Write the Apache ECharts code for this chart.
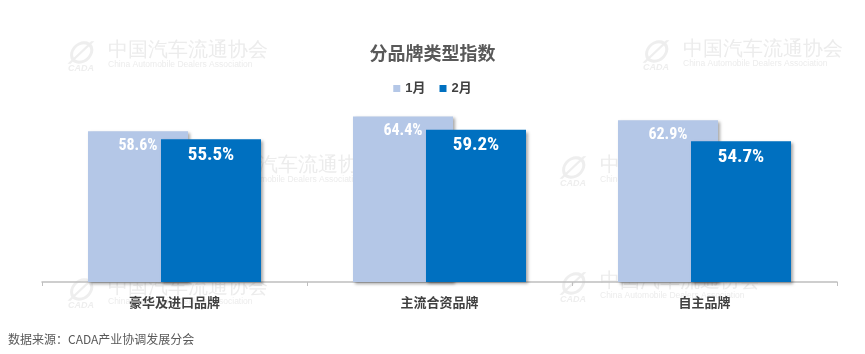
<!DOCTYPE html>
<html><head><meta charset="utf-8">
<script src="https://cdn.jsdelivr.net/npm/echarts@6/dist/echarts.min.js"></script>
<style>html,body{margin:0;padding:0;background:#fff}#c{width:865px;height:354px}</style>
</head><body><div id="c"></div>
<script>
const categories = ['豪华及进口品牌', '主流合资品牌', '自主品牌'];
const seriesNames = ['1月', '2月'];
const jan = [58.6, 64.4, 62.9];
const feb = [55.5, 59.2, 54.7];
const titleText = '分品牌类型指数';
const sourceText = '数据来源：CADA产业协调发展分会';

const wmCn = '中国汽车流通协会';
const wmEn = 'China Automobile Dealers Association';
const wmPos = [[108, 52], [683, 51], [218, 167], [600, 167], [108, 289], [600, 283]];
const wm = [];
wmPos.forEach(p => {
  wm.push({type:'text', left:p[0], top:p[1]-11, z:-1, style:{text:wmCn, font:'20px "Liberation Serif", serif', fill:'#ececec'}});
  wm.push({type:'text', left:p[0], top:p[1]+8, z:-1, style:{text:wmEn, font:'8.5px "Liberation Sans", sans-serif', fill:'#ececec'}});
  wm.push({type:'text', left:p[0]-42, top:p[1]-12, z:-1, style:{text:'∅', font:'bold italic 30px "Liberation Sans", sans-serif', fill:'#eeeeee'}});
  wm.push({type:'text', left:p[0]-40, top:p[1]+12, z:-1, style:{text:'CADA', font:'bold italic 9px "Liberation Sans", sans-serif', fill:'#eeeeee'}});
});

const chart = echarts.init(document.getElementById('c'));
const shadow = {shadowColor:'rgba(0,0,0,0.35)', shadowBlur:3, shadowOffsetX:2, shadowOffsetY:2};
const lblFont = '"Roboto Condensed", "Liberation Sans Narrow", Roboto, sans-serif';
chart.setOption({
  animation:false,
  backgroundColor:'#fff',
  title:{text:titleText, left:'center', top:39, textStyle:{fontSize:18, fontWeight:'bold', color:'#595959', fontFamily:'"Noto Sans CJK SC", sans-serif'}},
  legend:{data:seriesNames, top:77, left:'center', itemWidth:7, itemHeight:7, icon:'rect', itemGap:14,
    textStyle:{fontSize:13, fontWeight:'bold', color:'#404040', fontFamily:'"Liberation Sans", "Noto Sans CJK SC", sans-serif'}},
  graphic: wm.concat([{type:'text', left:8, top:333, style:{text:sourceText, font:'12px "Noto Sans CJK SC", sans-serif', fill:'#595959'}}]),
  grid:{left:42, right:28, top:102, bottom:72},
  xAxis:{type:'category', data:categories,
    axisLine:{lineStyle:{color:'#BFBFBF', width:1.5}},
    axisTick:{show:true, length:4, lineStyle:{color:'#BFBFBF'}},
    axisLabel:{fontSize:13, fontWeight:'bold', color:'#404040', margin:14, fontFamily:'"Noto Sans CJK SC", sans-serif'}},
  yAxis:{type:'value', min:0, max:70, show:false, splitLine:{show:false}},
  series:[
    {name:seriesNames[0], type:'bar', data:jan, barWidth:100, barGap:'-27%',
      itemStyle:Object.assign({color:'#B4C7E7'}, shadow),
      label:{show:true, position:'insideTop', distance:7, formatter:p=>p.value.toFixed(1)+'%', color:'#fff', fontSize:16, fontWeight:'bold condensed', fontFamily:lblFont}},
    {name:seriesNames[1], type:'bar', data:feb, barWidth:100,
      itemStyle:Object.assign({color:'#0070C0'}, shadow),
      label:{show:true, position:'insideTop', distance:6, formatter:p=>p.value.toFixed(1)+'%', color:'#fff', fontSize:19, fontWeight:'bold condensed', fontFamily:lblFont}}
  ]
});
</script></body></html>
